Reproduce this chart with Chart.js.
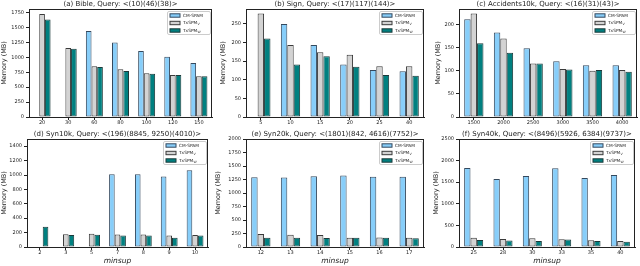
<!DOCTYPE html>
<html>
<head>
<meta charset="utf-8">
<script src="https://cdn.jsdelivr.net/npm/chart.js@4/dist/chart.umd.min.js"></script>
<style>
body { margin: 0; background: #fff; width: 640px; height: 266px; position: relative; overflow: hidden; }
canvas { position: absolute; }
</style>
</head>
<body>
<script>
// series names (legend), subscripts drawn separately
const seriesNames = ['CM-SPAM', 'TxSPM', 'TxSPM'];
const seriesSubs = ['', 'V', 'W'];

// (a) Bible
const bibleSup = ['20', '30', '60', '80', '100', '120', '150'];
const bibleCm = [null, null, 1440, 1250, 1105, 1010, 905];
const bibleV = [1728, 1158, 850, 802, 735, 703, 684];
const bibleW = [1632, 1145, 840, 770, 725, 703, 682];
const bibleTicks = [0, 250, 500, 750, 1000, 1250, 1500, 1750];

// (b) Sign
const signSup = ['5', '10', '15', '20', '25', '40'];
const signCm = [null, 250, 193, 141, 126, 123];
const signV = [278, 193, 174, 167, 136, 136];
const signW = [211, 141, 163, 135, 113, 111];
const signTicks = [0, 50, 100, 150, 200, 250];

// (c) Accidents10k
const accSup = ['1500', '2000', '2500', '3000', '3500', '4000'];
const accCm = [212, 183, 149, 121, 112, 112];
const accV = [224, 170, 116, 104, 100, 102];
const accW = [160, 139, 116, 103, 102, 98];
const accTicks = [0, 50, 100, 150, 200];

// (d) Syn10k
const syn10Sup = ['2', '3', '5', '7', '8', '9', '10'];
const syn10Cm = [null, null, null, 1012, 1012, 978, 1065];
const syn10V = [null, 178, 185, 172, 172, 160, 165];
const syn10W = [280, 168, 170, 158, 158, 128, 160];
const syn10Ticks = [0, 200, 400, 600, 800, 1000, 1200, 1400];

// (e) Syn20k
const syn20Sup = ['12', '13', '14', '15', '16', '17'];
const syn20Cm = [1290, 1288, 1312, 1325, 1300, 1300];
const syn20V = [240, 228, 222, 172, 175, 172];
const syn20W = [172, 170, 168, 170, 170, 160];
const syn20Ticks = [0, 250, 500, 750, 1000, 1250, 1500, 1750, 2000];

// (f) Syn40k
const syn40Sup = ['25', '28', '30', '33', '35', '40'];
const syn40Cm = [1830, 1575, 1642, 1822, 1598, 1665];
const syn40V = [216, 188, 202, 180, 155, 140];
const syn40W = [162, 148, 140, 176, 138, 122];
const syn40Ticks = [0, 500, 1000, 1500, 2000, 2500];

const panels = [
  { title: '(a) Bible, Query: <(10)(46)(38)>', labels: bibleSup, data: [bibleCm, bibleV, bibleW], max: 1810, ticks: bibleTicks },
  { title: '(b) Sign, Query: <(17)(117)(144)>', labels: signSup, data: [signCm, signV, signW], max: 290, ticks: signTicks },
  { title: '(c) Accidents10k, Query: <(16)(31)(43)>', labels: accSup, data: [accCm, accV, accW], max: 234, ticks: accTicks },
  { title: '(d) Syn10k, Query: <(196)(8845, 9250)(4010)>', labels: syn10Sup, data: [syn10Cm, syn10V, syn10W], max: 1500, ticks: syn10Ticks },
  { title: '(e) Syn20k, Query: <(1801)(842, 4616)(7752)>', labels: syn20Sup, data: [syn20Cm, syn20V, syn20W], max: 2000, ticks: syn20Ticks },
  { title: '(f) Syn40k, Query: <(8496)(5926, 6384)(9737)>', labels: syn40Sup, data: [syn40Cm, syn40V, syn40W], max: 2500, ticks: syn40Ticks }
];

// canvas box: x, y, w, h, plot left, right padding, y-title pad
const boxes = [
  [0, 0, 213, 130, 29, 1, 0],
  [213, 0, 213, 130, 33, 2, 6],
  [426, 0, 214, 130, 33, 3, 8],
  [0, 130, 213, 136, 27, 5, 0],
  [213, 130, 213, 136, 33, 2, 1],
  [426, 130, 214, 136, 33, 5, 6]
];

const fills = ['#87cefa', '#d3d3d3', '#008080'];
const edges = ['#34495e', '#3a3a3a', '#1c3a3a'];
const font = 'DejaVu Sans';
const ink = '#222';

const framePlugin = {
  id: 'frame',
  afterDraw(chart) {
    const ctx = chart.ctx;
    const ca = chart.chartArea;
    ctx.save();
    // full axes box
    ctx.strokeStyle = ink;
    ctx.lineWidth = 1;
    ctx.strokeRect(Math.round(ca.left) + 0.5, Math.round(ca.top) + 0.5,
      Math.round(ca.right - ca.left) - 1, Math.round(ca.bottom - ca.top));
    // title
    ctx.fillStyle = ink;
    ctx.font = '7px "' + font + '"';
    ctx.textAlign = 'center';
    ctx.textBaseline = 'middle';
    ctx.fillText(chart.options.plugins.frame.title, (ca.left + ca.right) / 2, 3.8);
    // legend
    const lw = 43, lh = 23;
    const lx = ca.right - lw - 2, ly = ca.top + 2;
    ctx.fillStyle = '#fff';
    ctx.strokeStyle = '#cccccc';
    ctx.beginPath();
    ctx.roundRect(lx + 0.5, ly + 0.5, lw, lh, 1.5);
    ctx.fill();
    ctx.stroke();
    ctx.textAlign = 'left';
    for (let i = 0; i < 3; i++) {
      const y = ly + 4.5 + i * 7.5;
      ctx.fillStyle = fills[i];
      ctx.fillRect(lx + 3, y - 1.7, 10, 3.4);
      ctx.strokeStyle = edges[i];
      ctx.strokeRect(lx + 3, y - 1.7, 10, 3.4);
      ctx.fillStyle = ink;
      ctx.font = '4.3px "' + font + '"';
      ctx.fillText(seriesNames[i], lx + 16, y);
      if (seriesSubs[i]) {
        const w = ctx.measureText(seriesNames[i]).width;
        ctx.font = '3.2px "' + font + '"';
        ctx.fillText(seriesSubs[i], lx + 16 + w + 0.3, y + 1.2);
      }
    }
    ctx.restore();
  }
};

panels.forEach((p, k) => {
  const b = boxes[k];
  const bottomRow = k >= 3;
  const cv = document.createElement('canvas');
  cv.width = b[2];
  cv.height = b[3];
  cv.style.left = b[0] + 'px';
  cv.style.top = b[1] + 'px';
  document.body.appendChild(cv);

  const gridOpts = { display: true, drawOnChartArea: false, drawTicks: true, tickLength: 3, color: ink, offset: false };

  new Chart(cv, {
    type: 'bar',
    data: {
      labels: p.labels,
      datasets: p.data.map((d, i) => ({
        label: seriesNames[i] + seriesSubs[i],
        data: d,
        backgroundColor: fills[i],
        borderColor: edges[i],
        borderWidth: 1,
        borderSkipped: false,
        categoryPercentage: 0.65,
        barPercentage: 1
      }))
    },
    options: {
      responsive: false,
      animation: false,
      devicePixelRatio: 1,
      layout: { padding: { top: 9, right: b[5], left: 0, bottom: 0 } },
      plugins: {
        legend: { display: false },
        tooltip: { enabled: false },
        frame: { title: p.title }
      },
      scales: {
        x: {
          grid: gridOpts,
          border: { display: true, color: ink },
          ticks: { font: { family: font, size: 5 }, color: ink, padding: 0, maxRotation: 0, autoSkip: false },
          title: {
            display: bottomRow,
            text: 'minsup',
            color: ink,
            font: { family: font, size: 7.5, style: 'italic' },
            padding: { top: 0, bottom: 0 }
          },
          afterFit(s) { s.height = bottomRow ? 19 : 13; }
        },
        y: {
          min: 0,
          max: p.max,
          grid: gridOpts,
          border: { display: true, color: ink },
          afterBuildTicks(s) { s.ticks = p.ticks.map(v => ({ value: v })); },
          ticks: {
            autoSkip: false,
            font: { family: font, size: 5 },
            color: ink,
            padding: 2,
            callback: v => String(v)
          },
          title: {
            display: true,
            text: 'Memory (MB)',
            color: ink,
            font: { family: font, size: 6.5 },
            padding: { top: b[6], bottom: 0 }
          },
          afterFit(s) { s.width = b[4]; }
        }
      }
    },
    plugins: [framePlugin]
  });
});
</script>
</body>
</html>
